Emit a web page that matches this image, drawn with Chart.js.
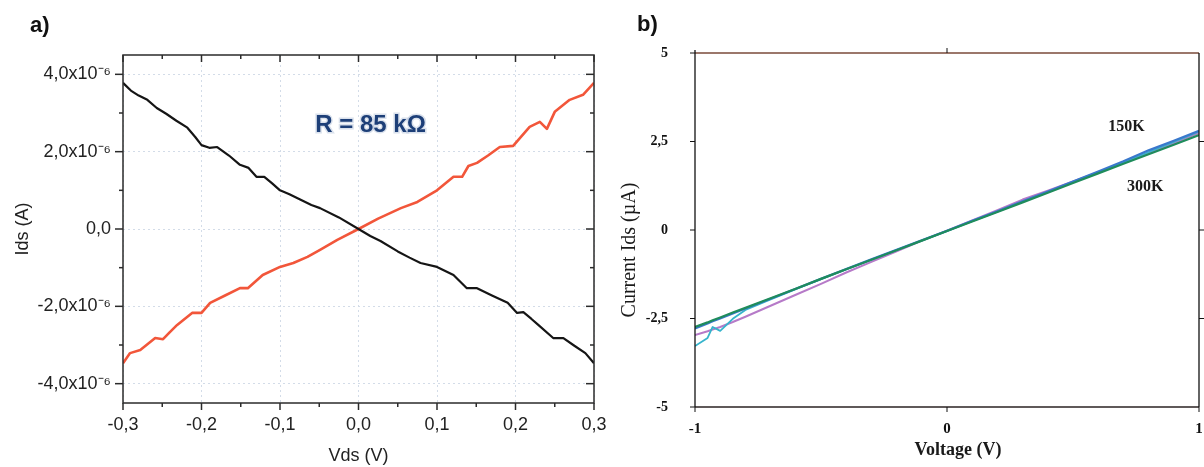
<!DOCTYPE html>
<html lang="en">
<head>
<meta charset="UTF-8">
<title>Ids vs Vds</title>
<script src="https://cdn.jsdelivr.net/npm/chart.js@4.4.0/dist/chart.umd.min.js"></script>
<style>
  body { margin: 0; background: #fff; width: 1204px; height: 467px; position: relative; overflow: hidden; }
  canvas { position: absolute; top: 0; }
  .tag { position: absolute; z-index: 2; font: bold 22px "Liberation Sans", Arial, sans-serif; line-height: 1; color: #111; }
</style>
</head>
<body>
<canvas id="chartA" style="left:0" width="620" height="467"></canvas>
<canvas id="chartB" style="left:600px" width="604" height="467"></canvas>
<div class="tag" style="left:30px;top:14px">a)</div>
<div class="tag" style="left:637px;top:13px">b)</div>
<script>
// ---- panel a : Ids (x10^-6 A) vs Vds (V) ----
const vdsBlack = [-0.300,-0.290,-0.280,-0.269,-0.257,-0.245,-0.232,-0.218,-0.208,-0.200,-0.190,-0.180,-0.165,-0.151,-0.140,-0.130,-0.120,-0.110,-0.100,-0.088,-0.075,-0.060,-0.049,-0.025,0.000,0.015,0.028,0.050,0.065,0.079,0.100,0.121,0.138,0.151,0.170,0.190,0.202,0.210,0.220,0.229,0.248,0.261,0.275,0.289,0.300];
const idsBlack = [3.78,3.58,3.45,3.34,3.13,2.98,2.80,2.62,2.38,2.17,2.10,2.12,1.90,1.66,1.58,1.35,1.35,1.18,1.00,0.90,0.77,0.62,0.54,0.30,0.00,-0.18,-0.31,-0.58,-0.74,-0.88,-0.98,-1.19,-1.53,-1.53,-1.72,-1.91,-2.17,-2.15,-2.32,-2.48,-2.82,-2.82,-3.02,-3.21,-3.47];
const vdsRed = [-0.300,-0.291,-0.278,-0.259,-0.249,-0.240,-0.231,-0.212,-0.200,-0.189,-0.170,-0.151,-0.141,-0.122,-0.100,-0.083,-0.065,-0.049,-0.027,0.000,0.025,0.054,0.075,0.100,0.121,0.132,0.140,0.151,0.165,0.180,0.197,0.218,0.231,0.240,0.250,0.269,0.286,0.300];
const idsRed = [-3.47,-3.21,-3.13,-2.82,-2.85,-2.66,-2.48,-2.17,-2.17,-1.91,-1.72,-1.53,-1.53,-1.19,-0.98,-0.88,-0.72,-0.54,-0.28,0.00,0.27,0.54,0.70,1.00,1.35,1.35,1.63,1.71,1.90,2.12,2.15,2.64,2.77,2.59,3.03,3.34,3.47,3.78];
const vdsTicks = [-0.3,-0.2,-0.1,0,0.1,0.2,0.3];
const idsTicks = [-4,-2,0,2,4];
const resistanceNote = { text: 'R = 85 k\u03A9', x: -0.055, y: 2.69 };

// ---- panel b : current (uA) vs voltage (V) ----
const voltsB = [-1,-0.95,-0.93,-0.9,-0.85,-0.8,-0.7,-0.6,-0.5,-0.4,-0.3,-0.2,-0.1,0,0.1,0.2,0.3,0.4,0.5,0.6,0.7,0.8,0.9,1];
const cur150K = [-2.78,-2.64,-2.58,-2.50,-2.36,-2.22,-1.94,-1.66,-1.38,-1.10,-0.83,-0.56,-0.29,-0.02,0.26,0.53,0.81,1.09,1.37,1.65,1.94,2.25,2.52,2.80];
const cur200K = [-3.28,-3.05,-2.74,-2.85,-2.51,-2.26,-1.96,-1.67,-1.39,-1.11,-0.84,-0.57,-0.30,-0.03,0.25,0.52,0.80,1.07,1.35,1.63,1.91,2.20,2.49,2.78];
const cur250K = [-2.97,-2.86,-2.81,-2.74,-2.60,-2.45,-2.14,-1.83,-1.52,-1.20,-0.90,-0.60,-0.30,-0.02,0.27,0.56,0.86,1.11,1.37,1.63,1.90,2.17,2.45,2.74];
const cur300K = [-2.74,-2.61,-2.55,-2.47,-2.33,-2.20,-1.93,-1.66,-1.38,-1.11,-0.84,-0.57,-0.30,-0.03,0.24,0.51,0.78,1.05,1.33,1.60,1.87,2.14,2.41,2.68];
const voltTicks = [-1,0,1];
const curTicks = [-5,-2.5,0,2.5,5];
const tempNotes = [{ text: '150K', x: 0.64, y: 2.91 }, { text: '300K', x: 0.714, y: 1.21 }];

function pts(xs, ys) { return xs.map((x, i) => ({ x: x, y: ys[i] })); }
function comma(v, d) { return v.toFixed(d).replace('.', ','); }

function tickLine(ctx, x1, y1, x2, y2) {
    ctx.beginPath(); ctx.moveTo(x1, y1); ctx.lineTo(x2, y2); ctx.stroke();
}

// keep the plot area where the layout padding puts it (no label overflow padding)
function noScalePadding(s) {
    s.paddingLeft = 0; s.paddingRight = 0; s.paddingTop = 0; s.paddingBottom = 0;
}

const SANS = '"Liberation Sans", Arial, sans-serif';
const SERIF = '"Liberation Serif", "Times New Roman", serif';

// frame, minor ticks and the R label for panel a
const frameA = {
    id: 'frameA',
    afterDraw(chart) {
        const { ctx, chartArea: a, scales: { x, y } } = chart;
        ctx.save();
        ctx.strokeStyle = '#2b2b2b';
        ctx.lineWidth = 1.5;
        ctx.strokeRect(a.left, a.top, a.right - a.left, a.bottom - a.top);
        for (let i = -6; i <= 6; i++) {
            const px = x.getPixelForValue(i * 0.05);
            const len = i % 2 === 0 ? 7 : 4;
            tickLine(ctx, px, a.bottom, px, a.bottom + len);
            tickLine(ctx, px, a.top, px, a.top + len);
        }
        for (let i = -4; i <= 4; i++) {
            const py = y.getPixelForValue(i);
            const len = i % 2 === 0 ? 8 : 4;
            tickLine(ctx, a.left - len, py, a.left, py);
            tickLine(ctx, a.right - len, py, a.right, py);
        }
        ctx.font = 'bold 24px ' + SANS;
        ctx.textBaseline = 'middle';
        ctx.textAlign = 'left';
        ctx.lineWidth = 3;
        ctx.strokeStyle = 'rgba(150,170,200,0.35)';
        const nx = x.getPixelForValue(resistanceNote.x), ny = y.getPixelForValue(resistanceNote.y);
        ctx.strokeText(resistanceNote.text, nx, ny);
        ctx.fillStyle = '#1d3f78';
        ctx.fillText(resistanceNote.text, nx, ny);
        ctx.restore();
    }
};

// axes lines, ticks, titles and temperature labels for panel b
const frameB = {
    id: 'frameB',
    afterDraw(chart) {
        const { ctx, chartArea: a, scales: { x, y } } = chart;
        ctx.save();
        ctx.lineWidth = 1.3;
        ctx.strokeStyle = '#7a4a3a';
        tickLine(ctx, a.left, a.top, a.right, a.top);
        ctx.strokeStyle = '#2a2222';
        tickLine(ctx, a.left, a.bottom, a.right, a.bottom);
        ctx.strokeStyle = '#111';
        tickLine(ctx, a.left, a.top - 3, a.left, a.bottom);
        tickLine(ctx, a.right, a.top, a.right, a.bottom);
        ctx.lineWidth = 1;
        curTicks.forEach(v => {
            const py = y.getPixelForValue(v);
            tickLine(ctx, a.left - 5, py, a.left, py);
            if (Math.abs(v) < 5) tickLine(ctx, a.right, py, a.right + 5, py);
        });
        voltTicks.forEach(v => {
            const px = x.getPixelForValue(v);
            tickLine(ctx, px, a.bottom, px, a.bottom + 5);
            if (v === 0) tickLine(ctx, px, a.top - 5, px, a.top);
        });
        ctx.fillStyle = '#1a1a1a';
        ctx.textAlign = 'center';
        ctx.textBaseline = 'middle';
        ctx.font = 'bold 18px ' + SERIF;
        ctx.fillText('Voltage (V)', (a.left + a.right) / 2 + 11, 450);
        ctx.font = '20px ' + SERIF;
        ctx.translate(30, (a.top + a.bottom) / 2 + 20);
        ctx.rotate(-Math.PI / 2);
        ctx.fillText('Current Ids (\u00B5A)', 0, 0);
        ctx.setTransform(1, 0, 0, 1, 0, 0);
        ctx.font = 'bold 16px ' + SERIF;
        ctx.textAlign = 'left';
        tempNotes.forEach(n => ctx.fillText(n.text, x.getPixelForValue(n.x), y.getPixelForValue(n.y)));
        ctx.restore();
    }
};

new Chart('chartA', {
    type: 'line',
    data: {
        datasets: [
            { data: pts(vdsBlack, idsBlack), borderColor: '#151515', borderWidth: 2.2 },
            { data: pts(vdsRed, idsRed), borderColor: '#f2563a', borderWidth: 2.6 }
        ]
    },
    options: {
        responsive: false,
        devicePixelRatio: 1,
        animation: false,
        layout: { autoPadding: false, padding: { top: 55, right: 26, left: 0, bottom: 0 } },
        elements: { point: { radius: 0 }, line: { tension: 0, borderJoinStyle: 'round' } },
        plugins: { legend: { display: false }, tooltip: { enabled: false } },
        scales: {
            x: {
                type: 'linear', min: -0.3, max: 0.3,
                afterBuildTicks: s => { s.ticks = vdsTicks.map(v => ({ value: v })); },
                afterFit: s => { s.height = 64; noScalePadding(s); },
                grid: { color: '#d3dce8', drawTicks: false },
                border: { display: false, dash: [2, 3] },
                ticks: { padding: 11, color: '#222', font: { family: SANS, size: 18 }, callback: v => comma(v, 1) },
                title: { display: true, text: 'Vds (V)', color: '#222', font: { family: SANS, size: 18 }, padding: { top: 0, bottom: 0 } }
            },
            y: {
                type: 'linear', min: -4.5, max: 4.5,
                afterBuildTicks: s => { s.ticks = idsTicks.map(v => ({ value: v })); },
                afterFit: s => { s.width = 123; noScalePadding(s); },
                grid: { color: '#d3dce8', drawTicks: false },
                border: { display: false, dash: [2, 3] },
                ticks: { padding: 12, color: '#222', font: { family: SANS, size: 18 },
                    callback: v => v === 0 ? '0,0' : comma(v, 1) + 'x10\u207B\u2076' },
                title: { display: true, text: 'Ids (A)', color: '#222', font: { family: SANS, size: 18 }, padding: { top: 12, bottom: 0 } }
            }
        }
    },
    plugins: [frameA]
});

new Chart('chartB', {
    type: 'line',
    data: {
        datasets: [
            { label: '300K', data: pts(voltsB, cur300K), borderColor: '#1f8c5c', borderWidth: 2.2 },
            { label: '150K', data: pts(voltsB, cur150K), borderColor: '#3a78cc', borderWidth: 2.2 },
            { label: '200K', data: pts(voltsB, cur200K), borderColor: '#36b4cc', borderWidth: 1.8 },
            { label: '250K', data: pts(voltsB, cur250K), borderColor: '#b67ac8', borderWidth: 2 }
        ]
    },
    options: {
        responsive: false,
        devicePixelRatio: 1,
        animation: false,
        layout: { autoPadding: false, padding: { top: 53, right: 5, left: 0, bottom: 0 } },
        elements: { point: { radius: 0 }, line: { tension: 0, borderJoinStyle: 'round' } },
        plugins: { legend: { display: false }, tooltip: { enabled: false } },
        scales: {
            x: {
                type: 'linear', min: -1, max: 1,
                afterBuildTicks: s => { s.ticks = voltTicks.map(v => ({ value: v })); },
                afterFit: s => { s.height = 60; noScalePadding(s); },
                grid: { display: false, drawTicks: false },
                border: { display: false },
                ticks: { padding: 13, color: '#111', font: { family: SERIF, size: 15, weight: 'bold' }, callback: v => String(v) }
            },
            y: {
                type: 'linear', min: -5, max: 5,
                afterBuildTicks: s => { s.ticks = curTicks.map(v => ({ value: v })); },
                afterFit: s => { s.width = 95; noScalePadding(s); },
                grid: { display: false, drawTicks: false },
                border: { display: false },
                ticks: { padding: 27, color: '#111', font: { family: SERIF, size: 14, weight: 'bold' },
                    callback: v => Number.isInteger(v) ? String(v) : comma(v, 1) }
            }
        }
    },
    plugins: [frameB]
});
</script>
</body>
</html>
